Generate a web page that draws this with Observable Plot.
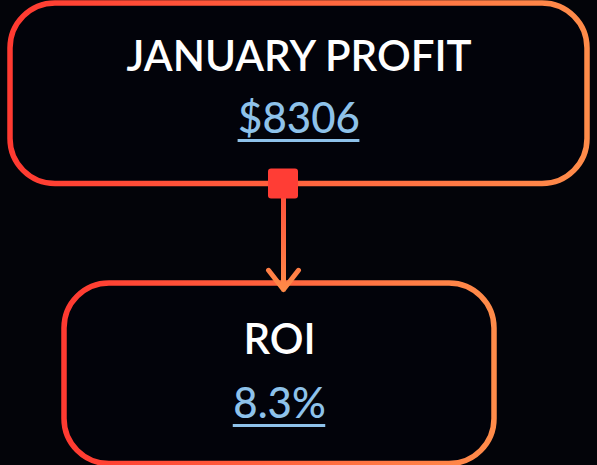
<!DOCTYPE html>
<html>
<head>
<meta charset="utf-8">
<script src="https://cdn.jsdelivr.net/npm/d3@7"></script>
<script src="https://cdn.jsdelivr.net/npm/@observablehq/plot@0.6"></script>
<style>
  html, body { margin: 0; padding: 0; background: #030409; }
  #chart { width: 597px; height: 465px; overflow: hidden; }
</style>
</head>
<body>
<div id="chart"></div>
<script>
// ---- data ----
const titles = ["JANUARY PROFIT", "ROI"];
const values = ["$8306", "8.3%"];
const links = [{source: 0, target: 1}];

// ---- layout (pixel geometry of the diagram) ----
const W = 597, H = 465;
const boxLeft = [10, 64];
const boxRight = [587, 494];
const boxTop = [3, 283];
const boxHeight = 180.5;
const connectorX = 283;
const titleBaseline = [67, 70];   // from box top
const valueBaseline = [129, 134]; // from box top
const titleSize = 42, valueSize = 42;
const titleFont = "Lato", valueFont = "Lato";
const titleWeight = 600, valueWeight = 500;

// measure text widths for underlines
const ctx = document.createElement("canvas").getContext("2d");
function textWidth(str, weight, size, family) {
  ctx.font = `${weight} ${size}px ${family}`;
  return ctx.measureText(str).width;
}

const nodes = titles.map((t, i) => {
  const cx = (boxLeft[i] + boxRight[i]) / 2;
  const vw = textWidth(values[i], valueWeight, valueSize, valueFont);
  return {
    title: t,
    value: values[i],
    x1: boxLeft[i], x2: boxRight[i],
    y1: boxTop[i], y2: boxTop[i] + boxHeight,
    cx,
    ty: boxTop[i] + titleBaseline[i] - 0.32 * titleSize,
    vy: boxTop[i] + valueBaseline[i] - 0.32 * valueSize,
    uy: boxTop[i] + valueBaseline[i] + 8,
    ux1: cx - vw / 2, ux2: cx + vw / 2
  };
});
const edges = links.map(l => ({
  x1: connectorX, y1: nodes[l.source].y2,
  x2: connectorX, y2: nodes[l.target].y1 + 6
}));
const squares = edges.map(e => ({x1: e.x1 - 15, x2: e.x1 + 15, y1: e.y1 - 15, y2: e.y1 + 15}));

const svg = Plot.plot({
  width: W, height: H,
  margin: 0,
  x: {type: "identity", axis: null},
  y: {type: "identity", axis: null},
  style: {background: "#030409", color: "white", fontFamily: "Lato, 'Open Sans', sans-serif"},
  marks: [
    Plot.rect(nodes, {x1: "x1", x2: "x2", y1: "y1", y2: "y2", rx: 45, ry: 45,
      fill: "#02030a", stroke: "url(#boxGrad)", strokeWidth: 5.5}),
    Plot.arrow(edges, {x1: "x1", y1: "y1", x2: "x2", y2: "y2",
      stroke: "url(#arrowGrad)", strokeWidth: 5, headAngle: 76, headLength: 7.3,
      strokeLinecap: "round", strokeLinejoin: "round"}),
    Plot.rect(squares, {x1: "x1", x2: "x2", y1: "y1", y2: "y2", rx: 3, ry: 3, fill: "#ff3d35"}),
    Plot.text(nodes, {x: "cx", y: "ty", text: "title",
      fill: "white", fontSize: titleSize, fontWeight: titleWeight, fontFamily: titleFont,
      ariaLabel: "node title"}),
    Plot.text(nodes, {x: "cx", y: "vy", text: "value",
      fill: "#8ec2ea", fontSize: valueSize, fontWeight: valueWeight, fontFamily: valueFont,
      ariaLabel: "node value"}),
    Plot.ruleY(nodes, {y: "uy", x1: "ux1", x2: "ux2", stroke: "#8ec2ea", strokeWidth: 3,
      ariaLabel: "value underline"})
  ]
});

const ns = "http://www.w3.org/2000/svg";
const defs = document.createElementNS(ns, "defs");
defs.innerHTML = `
  <linearGradient id="boxGrad" x1="0" y1="0" x2="1" y2="0">
    <stop offset="0" stop-color="#ff3a31"/>
    <stop offset="1" stop-color="#ff8c4a"/>
  </linearGradient>
  <linearGradient id="arrowGrad" x1="0" y1="0" x2="0" y2="1">
    <stop offset="0" stop-color="#ff4a3a"/>
    <stop offset="1" stop-color="#ff8a48"/>
  </linearGradient>`;
svg.insertBefore(defs, svg.firstChild);
document.getElementById("chart").appendChild(svg);
</script>
</body>
</html>
